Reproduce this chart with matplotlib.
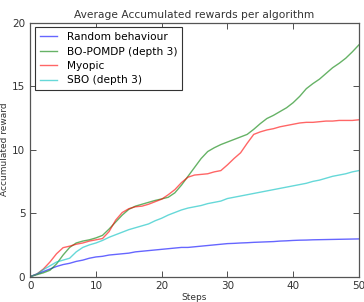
import matplotlib
matplotlib.use("Agg")
import matplotlib.pyplot as plt
import numpy as np

steps = list(range(51))
random_behaviour = [0, 0.2, 0.4, 0.6, 0.8, 0.95, 1.05, 1.2, 1.3, 1.45, 1.55, 1.6, 1.7, 1.75, 1.8, 1.85,
                    1.95, 2.0, 2.05, 2.1, 2.15, 2.2, 2.25, 2.3, 2.3, 2.35, 2.4, 2.45, 2.5, 2.55, 2.6,
                    2.62, 2.65, 2.67, 2.7, 2.72, 2.74, 2.76, 2.8, 2.82, 2.85, 2.87, 2.88, 2.9, 2.91,
                    2.92, 2.93, 2.94, 2.95, 2.96, 2.97]
bo_pomdp = [0, 0.15, 0.3, 0.5, 1.0, 1.7, 2.3, 2.65, 2.8, 2.9, 3.05, 3.25, 3.75, 4.3, 4.85, 5.3,
            5.55, 5.7, 5.85, 6.0, 6.12, 6.25, 6.6, 7.2, 7.9, 8.6, 9.3, 9.85, 10.15, 10.4, 10.6,
            10.8, 11.0, 11.2, 11.6, 12.05, 12.45, 12.7, 13.0, 13.3, 13.7, 14.2, 14.8, 15.2, 15.55,
            16.0, 16.45, 16.8, 17.2, 17.7, 18.25]
myopic = [0, 0.2, 0.6, 1.15, 1.8, 2.28, 2.4, 2.55, 2.65, 2.8, 2.9, 3.0, 3.55, 4.45, 5.05, 5.35,
          5.5, 5.55, 5.7, 5.9, 6.1, 6.45, 6.85, 7.4, 7.83, 8.0, 8.05, 8.1, 8.25, 8.35, 8.8,
          9.3, 9.75, 10.5, 11.2, 11.4, 11.55, 11.65, 11.8, 11.9, 12.0, 12.1, 12.15, 12.15, 12.2,
          12.25, 12.25, 12.3, 12.3, 12.3, 12.35]
sbo = [0, 0.2, 0.55, 0.85, 1.15, 1.3, 1.45, 1.95, 2.3, 2.5, 2.65, 2.85, 3.1, 3.3, 3.5, 3.7,
       3.85, 4.0, 4.15, 4.4, 4.6, 4.85, 5.05, 5.25, 5.4, 5.5, 5.6, 5.75, 5.85, 5.95, 6.15,
       6.25, 6.35, 6.45, 6.55, 6.65, 6.75, 6.85, 6.95, 7.05, 7.15, 7.25, 7.35, 7.5, 7.6,
       7.75, 7.9, 8.0, 8.1, 8.25, 8.35]
labels = ["Random behaviour", "BO-POMDP (depth 3)", "Myopic", "SBO (depth 3)"]
colors = ["b", "g", "r", "c"]

fig = plt.figure(figsize=(3.64, 3.02), dpi=100)
ax = fig.add_axes([0.083, 0.084, 0.903, 0.841])
for ys, lab, c in zip([random_behaviour, bo_pomdp, myopic, sbo], labels, colors):
    ax.plot(steps, ys, color=c, alpha=0.6, lw=1.0, label=lab)

ax.set_xlim(0, 50)
ax.set_ylim(0, 20)
ax.set_xticks([0, 10, 20, 30, 40, 50])
ax.set_yticks([0, 5, 10, 15, 20])
ax.tick_params(direction="in", top=True, right=True, labelsize=7.5, length=4, width=0.6,
               colors="#333333", labelcolor="#333333")
for s in ax.spines.values():
    s.set_color("#555555")
    s.set_linewidth(0.9)
ax.set_title("Average Accumulated rewards per algorithm", fontsize=7.7, color="#333333", pad=3)
ax.set_xlabel("Steps", fontsize=6.5, color="#333333", labelpad=1)
ax.set_ylabel("Accumulated reward", fontsize=6.5, color="#333333", labelpad=2)
leg = ax.legend(loc="upper left", fontsize=7.6, fancybox=False, framealpha=1,
                edgecolor="#333333", handlelength=1.6, handletextpad=1.0, borderpad=0.45,
                labelspacing=0.42, borderaxespad=0.45)
leg.get_frame().set_linewidth(0.8)

fig.savefig("out.png", dpi=100, facecolor="white")
